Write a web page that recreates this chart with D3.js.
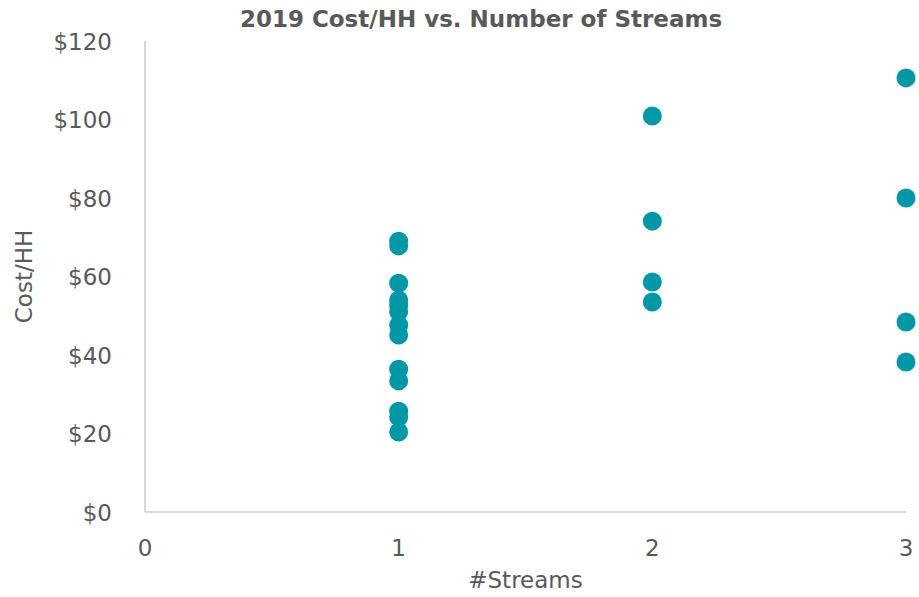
<!DOCTYPE html>
<html lang="en">
<head>
  <meta charset="UTF-8">
  <title>2019 Cost/HH vs. Number of Streams</title>
  <script src="https://d3js.org/d3.v7.min.js"></script>
  <style>
    body { margin: 0; background: #fff; }
    text { font-family: "DejaVu Sans", Verdana, sans-serif; fill: #595959; }
    .title { font-weight: bold; font-size: 23px; }
    .tick-label { font-size: 23px; }
    .axis-title { font-size: 23px; }
  </style>
</head>
<body>
  <div id="chart"></div>
  <script>
    // number of streams per utility and its cost per household
    const streams = [1, 1, 1, 1, 1, 1, 1, 1, 1, 1, 1, 1, 1, 2, 2, 2, 2, 3, 3, 3, 3];
    const costPerHH = [69.0, 67.8, 58.3, 54.0, 52.7, 51.0, 47.6, 45.1, 36.4, 33.4, 25.7, 24.2, 20.4,
                       100.9, 74.1, 58.6, 53.5, 110.6, 80.0, 48.4, 38.2];
    const xTicks = [0, 1, 2, 3];
    const yTicks = [0, 20, 40, 60, 80, 100, 120];

    const width = 919, height = 597;
    const margin = { top: 41, right: 13, bottom: 85, left: 145 };

    const svg = d3.select("#chart").append("svg")
      .attr("width", width)
      .attr("height", height);

    const x = d3.scaleLinear().domain([0, 3]).range([margin.left, width - margin.right]);
    const y = d3.scaleLinear().domain([0, 120]).range([height - margin.bottom, margin.top]);

    // axis lines
    svg.append("line")
      .attr("x1", x(0)).attr("x2", x(0))
      .attr("y1", y(0)).attr("y2", y(120))
      .attr("stroke", "#d9d9d9").attr("stroke-width", 2);
    svg.append("line")
      .attr("x1", x(0)).attr("x2", x(3))
      .attr("y1", y(0)).attr("y2", y(0))
      .attr("stroke", "#d9d9d9").attr("stroke-width", 2);

    svg.append("g").selectAll("text")
      .data(yTicks)
      .join("text")
      .attr("class", "tick-label")
      .attr("x", x(0) - 33)
      .attr("y", d => y(d))
      .attr("dy", "0.37em")
      .attr("text-anchor", "end")
      .text(d => "$" + d);

    svg.append("g").selectAll("text")
      .data(xTicks)
      .join("text")
      .attr("class", "tick-label")
      .attr("x", d => x(d))
      .attr("y", y(0) + 44)
      .attr("text-anchor", "middle")
      .text(d => d);

    svg.append("g").selectAll("circle")
      .data(streams.map((s, i) => ({ s, c: costPerHH[i] })))
      .join("circle")
      .attr("cx", d => x(d.s))
      .attr("cy", d => y(d.c))
      .attr("r", 9.5)
      .attr("fill", "#0097a7");

    svg.append("text")
      .attr("class", "title")
      .attr("x", 481)
      .attr("y", 27)
      .attr("text-anchor", "middle")
      .text("2019 Cost/HH vs. Number of Streams");

    svg.append("text")
      .attr("class", "axis-title")
      .attr("x", (x(0) + x(3)) / 2)
      .attr("y", 588)
      .attr("text-anchor", "middle")
      .text("#Streams");

    svg.append("text")
      .attr("class", "axis-title")
      .attr("transform", `translate(32, ${(y(0) + y(120)) / 2}) rotate(-90)`)
      .attr("text-anchor", "middle")
      .text("Cost/HH");
  </script>
</body>
</html>
